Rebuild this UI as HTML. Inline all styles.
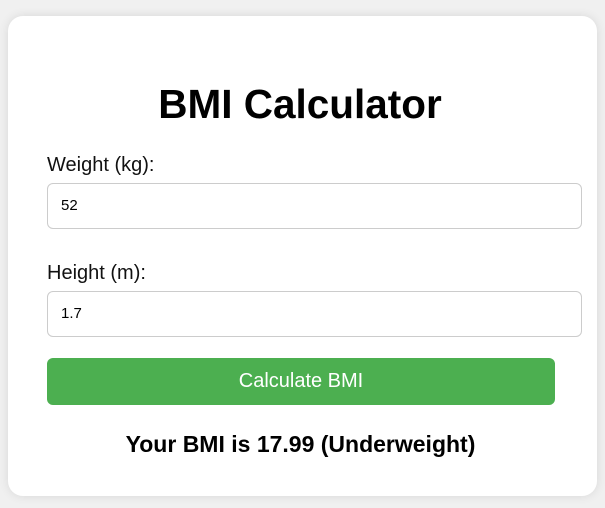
<!DOCTYPE html>
<html><head><meta charset="utf-8"><style>
*{box-sizing:border-box}
body{margin:0;width:605px;height:508px;background:#f0f0f0;font-family:"Liberation Sans",Arial,sans-serif;position:relative;overflow:hidden}
.card{position:absolute;left:8px;top:16px;width:589px;height:480px;background:#fff;border-radius:15px;box-shadow:0 0 10px rgba(0,0,0,0.1)}
h1{position:absolute;left:0;width:584px;top:64px;margin:0;text-align:center;font-size:40.5px;font-weight:bold;line-height:48px}
.lbl{position:absolute;left:39px;font-size:20px;line-height:24px;color:#111}
.inp{position:absolute;left:39px;width:535px;height:46px;border:1px solid #ccc;border-radius:6px;font-size:15px;padding-left:13px;line-height:44px;color:#000}
.btn{position:absolute;left:39px;top:342px;width:508px;height:47px;background:#4caf50;border-radius:6px;color:#fff;font-size:20px;text-align:center;line-height:47px}
.res{position:absolute;left:0;width:585px;top:414px;text-align:center;font-size:23px;font-weight:bold;line-height:28px}
</style></head><body>
<div class="card">
<h1>BMI Calculator</h1>
<div class="lbl" style="top:137px">Weight (kg):</div>
<div class="inp" style="top:167px">52</div>
<div class="lbl" style="top:245px">Height (m):</div>
<div class="inp" style="top:275px">1.7</div>
<div class="btn">Calculate BMI</div>
<div class="res">Your BMI is 17.99 (Underweight)</div>
</div>
</body></html>
